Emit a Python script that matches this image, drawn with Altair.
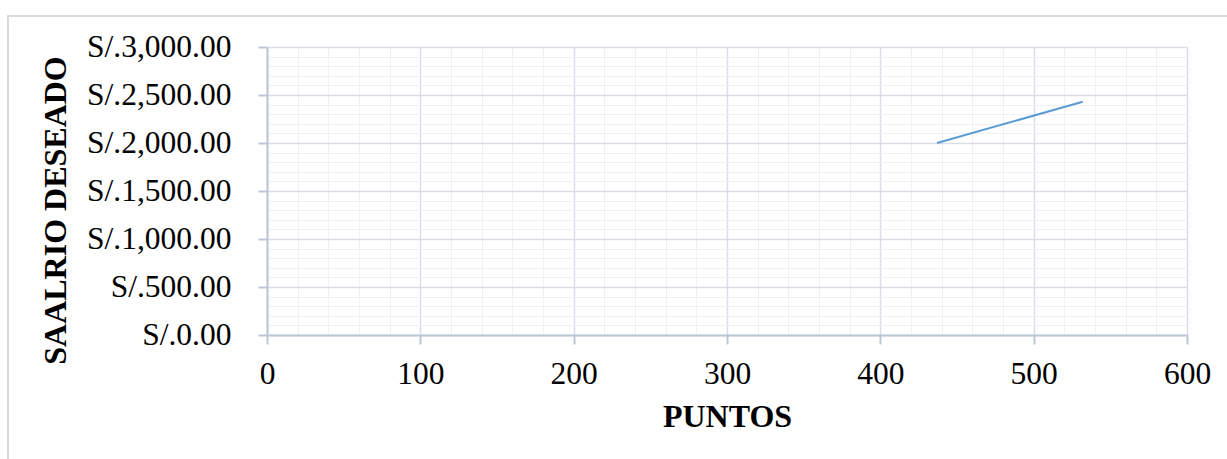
import altair as alt
import pandas as pd

puntos = [437, 532]
salario = [2000, 2430]
x_major = [0, 100, 200, 300, 400, 500, 600]
y_major = [0, 500, 1000, 1500, 2000, 2500, 3000]
x_minor = list(range(0, 601, 20))
y_minor = list(range(0, 3001, 100))

df = pd.DataFrame({"puntos": puntos, "salario": salario})

FONT = "Liberation Serif"
xs = alt.Scale(domain=[0, 600], nice=False, zero=False)
ys = alt.Scale(domain=[0, 3000], nice=False, zero=False)

minor = alt.Chart(df).mark_line(opacity=0).encode(
    x=alt.X("puntos:Q", scale=xs, axis=alt.Axis(values=x_minor, grid=True, gridColor="#eff0f3",
                                                   gridWidth=1, labels=False, ticks=False, domain=False,
                                                   title=None, orient="bottom")),
    y=alt.Y("salario:Q", scale=ys, axis=alt.Axis(values=y_minor, grid=True, gridColor="#eff0f3",
                                                  gridWidth=1, labels=False, ticks=False, domain=False,
                                                  title=None, orient="left")),
)

main = alt.Chart(df).mark_line(color="#5b9bd5", strokeWidth=2).encode(
    x=alt.X("puntos:Q", scale=xs, axis=alt.Axis(
        values=x_major, grid=True, gridColor="#d9dee6", gridWidth=1.5,
        domainColor="#bcc6d4", domainWidth=2, tickColor="#bcc6d4", tickWidth=2, tickSize=9,
        labelFont=FONT, labelFontSize=31.5, labelColor="#000000", labelPadding=14,
        labelFlush=False,
        title="PUNTOS", titleFont=FONT, titleFontSize=32, titleFontWeight="bold",
        titleColor="#000000", titlePadding=12, orient="bottom")),
    y=alt.Y("salario:Q", scale=ys, axis=alt.Axis(
        values=y_major, grid=True, gridColor="#d9dee6", gridWidth=1.5,
        domainColor="#bcc6d4", domainWidth=2, tickColor="#bcc6d4", tickWidth=2, tickSize=9,
        format=",.2f", labelExpr="'S/.' + datum.label", labelFlush=False,
        labelFont=FONT, labelFontSize=31.5, labelColor="#000000", labelPadding=27,
        title="SAALRIO DESEADO", titleFont=FONT, titleFontSize=32, titleFontWeight="bold",
        titleColor="#000000", titlePadding=14, titleY=163, orient="left")),
)

border = alt.Chart(df).mark_rect(fill=None, stroke="#d9d9d9", strokeWidth=1.5, clip=False).encode(
    x=alt.value(-259), x2=alt.value(1100), y=alt.value(-31), y2=alt.value(500)
)

chart = alt.layer(border, minor, main).resolve_axis(x="independent", y="independent").properties(
    width=920, height=288,
    autosize=alt.AutoSizeParams(type="none"),
    padding={"left": 267, "top": 47, "right": 40, "bottom": 124},
).configure_view(stroke=None).configure(background="white")

chart.save("out.html", embed_options={"renderer": "svg", "actions": False})
